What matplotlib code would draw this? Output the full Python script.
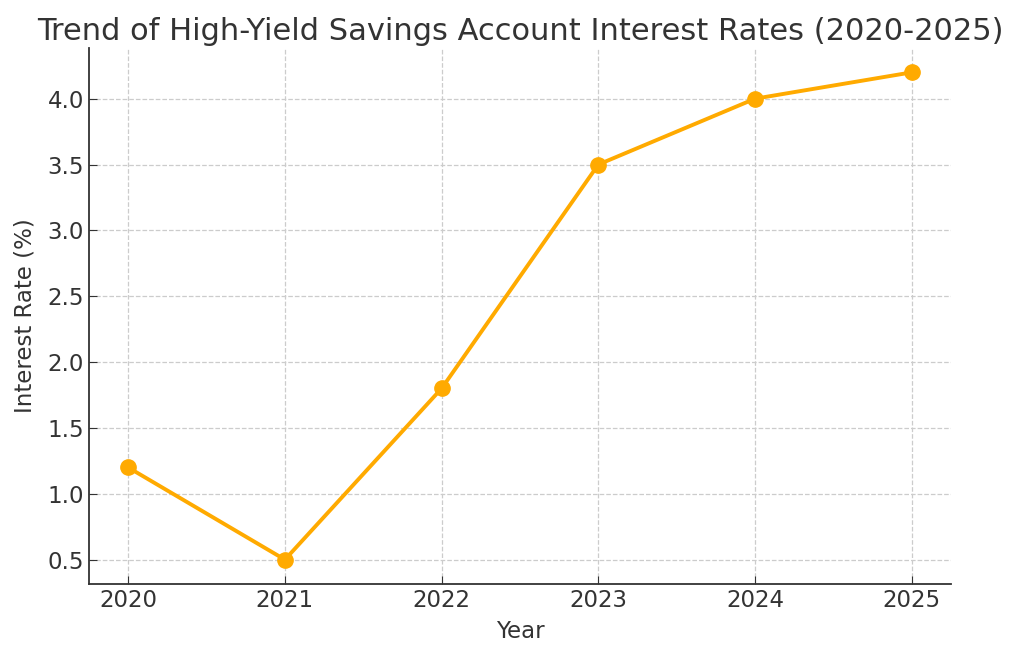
import matplotlib
matplotlib.use("Agg")
import matplotlib.pyplot as plt

years = [2020, 2021, 2022, 2023, 2024, 2025]
rates = [1.2, 0.5, 1.8, 3.5, 4.0, 4.2]

text_color = '#333333'

fig = plt.figure(figsize=(10.24, 6.59), dpi=100)
ax = fig.add_axes([0.0869, 0.1138, 0.8418, 0.8134])

ax.plot(years, rates, marker='o', color='#FFAA00', linewidth=2.8, markersize=11)

ax.set_title('Trend of High-Yield Savings Account Interest Rates (2020-2025)',
             fontsize=22, color=text_color, pad=6)
ax.set_xlabel('Year', fontsize=16.5, color=text_color, labelpad=6)
ax.set_ylabel('Interest Rate (%)', fontsize=16.5, color=text_color, labelpad=8)
ax.set_xticks(years)
ax.tick_params(direction='in', length=6, labelsize=16.5, labelcolor=text_color, color=text_color)

ax.grid(True, linestyle='--', color='#cccccc', linewidth=0.9)
ax.spines['top'].set_visible(False)
ax.spines['right'].set_visible(False)
for s in ('left', 'bottom'):
    ax.spines[s].set_color(text_color)
    ax.spines[s].set_linewidth(1.3)

fig.savefig('out.png', dpi=100)
